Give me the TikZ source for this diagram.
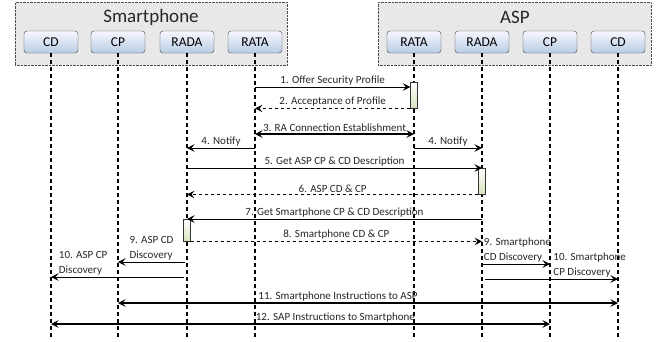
\documentclass[tikz,border=0pt]{standalone}
\usepackage{fontspec}
\setmainfont{Carlito}
\usetikzlibrary{arrows.meta}

\definecolor{partblue}{RGB}{184,204,228}
\definecolor{barlime}{RGB}{215,228,189}

\tikzset{
    group/.style={draw=black!70, densely dotted, fill=black!9, anchor=north west},
    title/.style={font=\fontsize{19}{21}\selectfont, text=black!85},
    part/.style={draw=black!75, rounded corners=3pt, top color=blue!3, bottom color=partblue,
        minimum width=54pt, minimum height=22pt, inner sep=0pt, font=\fontsize{13.5}{15}\selectfont},
    life/.style={line width=1.3pt, dash pattern=on 4pt off 3pt},
    actbar/.style={draw=black!80, top color=white, bottom color=barlime, minimum width=7pt,
        inner sep=0pt, anchor=north},
    msg/.style={-{Stealth[length=7.5pt,width=7.5pt,inset=3pt]}, line width=0.9pt},
    ret/.style={msg, dashed},
    both/.style={{Stealth[length=7.5pt,width=7.5pt,inset=3pt]}-{Stealth[length=7.5pt,width=7.5pt,inset=3pt]}, line width=1.3pt},
    lab/.style={font=\fontsize{11}{14.5}\selectfont, inner sep=1.5pt, text=black!85}
}

\begin{document}
\begin{tikzpicture}[x=1pt,y=-1pt]
    \useasboundingbox (0,0) rectangle (664,341);

    % skupiny
    \node[group, minimum width=272pt, minimum height=63pt] (sp) at (15,2) {};
    \node[group, minimum width=273pt, minimum height=63pt] (asp) at (378,2) {};
    \node[title] (spTitle) at (151,17) {Smartphone};
    \node[title] (aspTitle) at (515,17) {ASP};

    % komponenty
    \node[part] (spCD) at (51,42) {CD};
    \node[part] (spCP) at (118,42) {CP};
    \node[part] (spRADA) at (187,42) {RADA};
    \node[part] (spRATA) at (255,42) {RATA};
    \node[part] (aspRATA) at (414,42) {RATA};
    \node[part] (aspRADA) at (482,42) {RADA};
    \node[part] (aspCP) at (550,42) {CP};
    \node[part] (aspCD) at (618,42) {CD};

    % zivotni cary
    \foreach \n in {spCD,spCP,spRADA,spRATA,aspRATA,aspRADA,aspCP,aspCD}
        \draw[life] (\n.south) -- (\n.south |- 0,338);

    % aktivace
    \node[actbar, minimum height=26pt] (act1) at (aspRATA |- 0,82) {};
    \node[actbar, minimum height=26pt] (act2) at (aspRADA |- 0,168) {};
    \node[actbar, minimum height=22pt] (act3) at (spRADA |- 0,219) {};

    % zpravy
    \draw[msg] (spRATA |- 0,87) -- node[lab, above] {1. Offer Security Profile} (act1.west |- 0,87);
    \draw[ret] (act1.south west) -- node[lab, above] {2. Acceptance of Profile} (spRATA |- act1.south);
    \draw[both] (spRATA |- 0,134) -- node[lab, above] {3. RA Connection Establishment} (aspRATA |- 0,134);
    \draw[msg] (spRATA |- 0,148) -- node[lab, above] {4. Notify} (spRADA |- 0,148);
    \draw[msg] (aspRATA |- 0,148) -- node[lab, above] {4. Notify} (aspRADA |- 0,148);
    \draw[msg] (spRADA |- act2.north) -- node[lab, above] {5. Get ASP CP \& CD Description} (act2.north);
    \draw[ret] (act2.south west) -- node[lab, above] {6. ASP CD \& CP} (spRADA |- act2.south);
    \draw[msg] (aspRADA |- act3.north) -- node[lab, above] {7. Get Smartphone CP \& CD Description} (act3.north);
    \draw[ret] (act3.south east) -- node[lab, above] {8. Smartphone CD \& CP} (aspRADA |- act3.south);

    % objevovani
    \draw[msg] ([xshift=-2pt]spRADA.south |- 0,262) -- node[lab, above, align=left] {9. ASP CD\\Discovery} (spCP |- 0,262);
    \draw[msg] ([xshift=-3pt]spRADA.south |- 0,277) -- node[lab, pos=1, above right, xshift=6pt, align=left] {10. ASP CP\\Discovery} (spCD |- 0,277);
    \draw[msg] (aspRADA |- 0,264) -- node[lab, pos=0, above right, align=left] {9. Smartphone\\CD Discovery} (aspCP |- 0,264);
    \draw[msg] ([xshift=3pt]aspRADA.south |- 0,279) -- node[lab, pos=0.5, above right, align=left] {10. Smartphone\\CP Discovery} (aspCD |- 0,279);

    % instrukce
    \draw[both] (spCP |- 0,303) -- node[lab, above, pos=0.44] {11. Smartphone Instructions to ASP} (aspCD |- 0,303);
    \draw[both] (spCD |- 0,324) -- node[lab, above, pos=0.57] {12. SAP Instructions to Smartphone} (aspCP |- 0,324);
\end{tikzpicture}
\end{document}
